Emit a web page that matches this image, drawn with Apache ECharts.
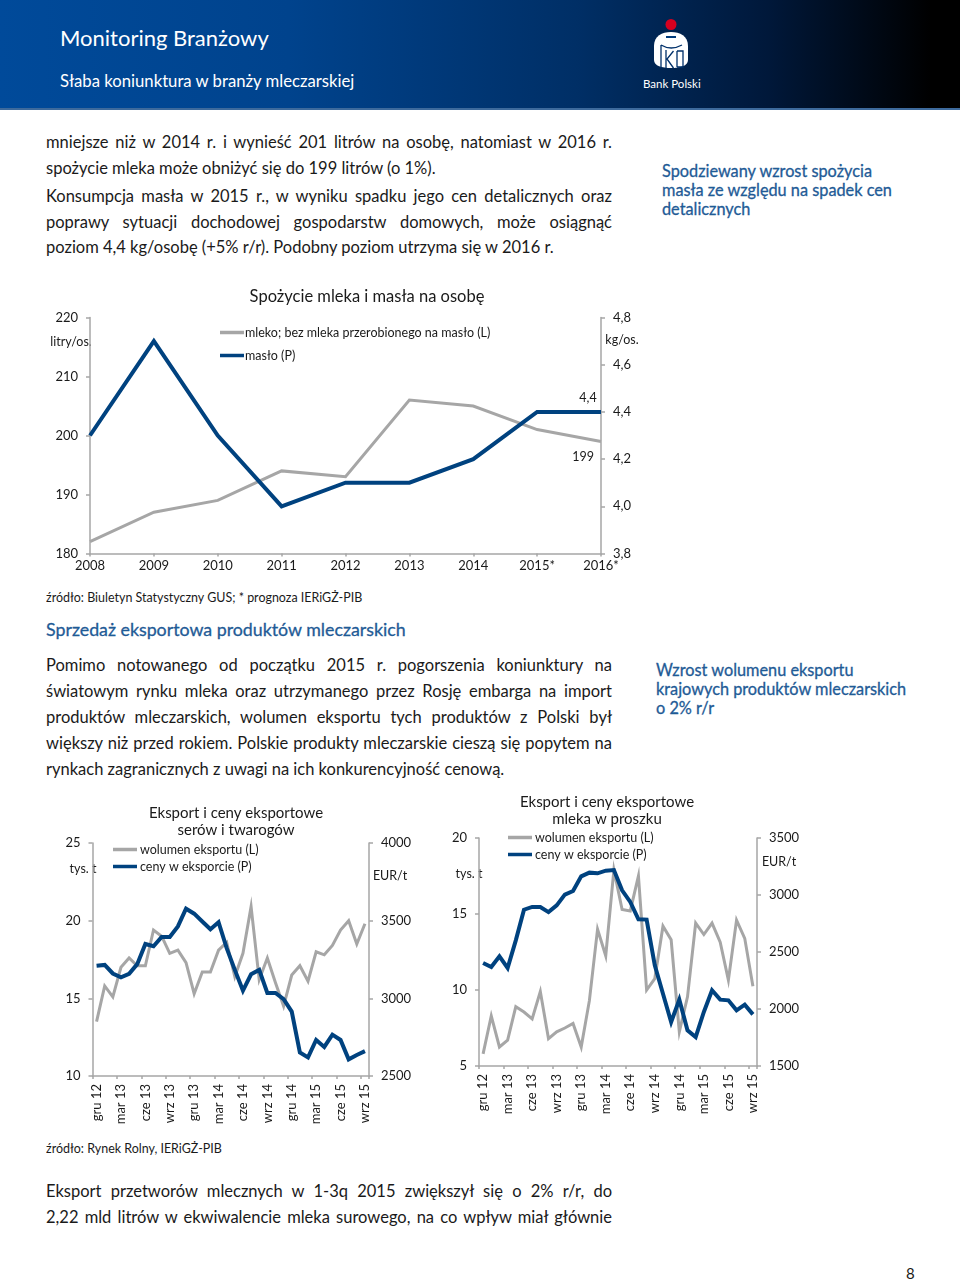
<!DOCTYPE html>
<html><head><meta charset="utf-8">
<script src="https://cdn.jsdelivr.net/npm/echarts@6/dist/echarts.min.js"></script>
<style>
html,body{margin:0;padding:0;background:#fff;}
body{width:960px;height:1279px;position:relative;overflow:hidden;font-family:Lato,"Noto Sans",sans-serif;color:#1a1a1a;}
#chart{position:absolute;left:0;top:0;width:960px;height:1279px;}
#hdr{position:absolute;left:0;top:0;width:960px;height:108px;background:linear-gradient(90deg,#004a9a 0%,#00438d 30%,#002f66 60%,#00183a 80%,#000 97%);border-bottom:2px solid #3d6a9c;}
.t{position:absolute;white-space:nowrap;}
.j{position:absolute;left:46px;width:566px;font-size:16.500px;line-height:24px;text-align:justify;text-align-last:justify;white-space:nowrap;}
.l{text-align-last:left;}
.b{color:#1f5b96;font-size:16.300px;-webkit-text-stroke:0.300px #1f5b96;}
.s{font-size:14px;transform:scaleX(.89);transform-origin:left center;}
</style></head><body>
<div id="hdr"></div>
<div class="t" style="left:60px;top:24px;font-size:22px;color:#fff">Monitoring Branżowy</div>
<div class="t" style="left:60px;top:71px;font-size:16.700px;color:#fff">Słaba koniunktura w branży mleczarskiej</div>
<svg style="position:absolute;left:650px;top:16px" width="44" height="56" viewBox="0 0 44 56">
<circle cx="21" cy="8.500" r="5.500" fill="#d5001f"/>
<path d="M4 30C4 20 12 16 21 16C30 16 38 20 38 30V44C38 50 30 52 21 52C12 52 4 50 4 44z" fill="#fff"/>
<rect x="16" y="20" width="10" height="2" fill="#003a7a"/>
<path d="M11 29V52M11 29Q21 35 32 29M16 34V52M23.500 35L17 43L23.500 52M27 35V51M27 35H33V51H27" fill="none" stroke="#00306a" stroke-width="1.300"/>
</svg>
<div class="t" style="left:643px;top:77px;font-size:11.500px;color:#fff">Bank Polski</div>

<div class="j" style="top:130px">mniejsze niż w 2014 r. i wynieść 201 litrów na osobę, natomiast w 2016 r.</div>
<div class="j l" style="top:156px">spożycie mleka może obniżyć się do 199 litrów (o 1%).</div>
<div class="j" style="top:184px">Konsumpcja masła w 2015 r., w wyniku spadku jego cen detalicznych oraz</div>
<div class="j" style="top:210px">poprawy sytuacji dochodowej gospodarstw domowych, może osiągnąć</div>
<div class="j l" style="top:235px">poziom 4,4 kg/osobę (+5% r/r). Podobny poziom utrzyma się w 2016 r.</div>
<div class="t b" style="left:662px;top:161px">Spodziewany wzrost spożycia</div>
<div class="t b" style="left:662px;top:180px">masła ze względu na spadek cen</div>
<div class="t b" style="left:662px;top:199px">detalicznych</div>
<div class="t s" style="left:46px;top:588px">źródło: Biuletyn Statystyczny GUS; * prognoza IERiGŻ-PIB</div>
<div class="t b" style="left:46px;top:618px;font-size:17.800px;">Sprzedaż eksportowa produktów mleczarskich</div>
<div class="j" style="top:653px">Pomimo notowanego od początku 2015 r. pogorszenia koniunktury na</div>
<div class="j" style="top:679px">światowym rynku mleka oraz utrzymanego przez Rosję embarga na import</div>
<div class="j" style="top:705px">produktów mleczarskich, wolumen eksportu tych produktów z Polski był</div>
<div class="j" style="top:731px">większy niż przed rokiem. Polskie produkty mleczarskie cieszą się popytem na</div>
<div class="j l" style="top:757px">rynkach zagranicznych z uwagi na ich konkurencyjność cenową.</div>
<div class="t b" style="left:656px;top:660px">Wzrost wolumenu eksportu</div>
<div class="t b" style="left:656px;top:679px">krajowych produktów mleczarskich</div>
<div class="t b" style="left:656px;top:698px">o 2% r/r</div>
<div class="t s" style="left:46px;top:1139px">źródło: Rynek Rolny, IERiGŻ-PIB</div>
<div class="j" style="top:1179px">Eksport przetworów mlecznych w 1-3q 2015 zwiększył się o 2% r/r, do</div>
<div class="j" style="top:1205px">2,22 mld litrów w ekwiwalencie mleka surowego, na co wpływ miał głównie</div>
<div class="t" style="left:906px;top:1264px;font-size:15px">8</div>
<div id="chart"></div>
<script>
var years=['2008','2009','2010','2011','2012','2013','2014','2015*','2016*'];
var milk=[182,187,189,194,193,206,205,201,199];
var butter=[4.3,4.7,4.3,4.0,4.1,4.1,4.2,4.4,4.4];
var months=['gru 12','sty 13','lut 13','mar 13','kwi 13','maj 13','cze 13','lip 13','sie 13','wrz 13','paź 13','lis 13','gru 13','sty 14','lut 14','mar 14','kwi 14','maj 14','cze 14','lip 14','sie 14','wrz 14','paź 14','lis 14','gru 14','sty 15','lut 15','mar 15','kwi 15','maj 15','cze 15','lip 15','sie 15','wrz 15'];
var cheeseVol=[13.5,15.8,15.1,17.0,17.6,17.1,17.1,19.4,19.0,17.9,18.1,17.3,15.3,16.7,16.7,18.1,18.6,16.4,17.9,20.9,16.2,17.6,16.0,14.5,16.5,17.1,16.1,18.0,17.8,18.4,19.4,20.0,18.5,19.8];
var cheesePrice=[3210,3215,3160,3135,3158,3220,3350,3335,3395,3395,3463,3577,3545,3495,3445,3490,3323,3183,3050,3155,3183,3035,3035,2995,2915,2652,2620,2732,2687,2766,2732,2607,2635,2660];
var powderVol=[5.8,8.3,6.25,6.7,8.9,8.55,8.1,9.9,6.8,7.25,7.5,7.8,6.25,9.3,14.0,12.25,17.9,15.3,15.2,17.5,10.0,10.75,14.2,13.3,7.25,9.55,14.4,13.65,14.4,13.15,10.65,14.6,13.4,10.25];
var powderPrice=[2403,2368,2462,2360,2602,2871,2895,2895,2850,2909,3003,3035,3164,3196,3190,3213,3219,3041,2939,2787,2784,2383,2134,1886,2082,1813,1754,1974,2164,2082,2076,1988,2038,1953];

var FONT='Lato,"Noto Sans",sans-serif', GREY='#a6a6a6', BLUE='#00427f', TXT='#1a1a1a';
var chart=echarts.init(document.getElementById('chart'),null,{renderer:'canvas'});
var comma=function(v){return v.toFixed(1).replace('.',',');};
var plain=function(v){return String(v);};
function yAx(idx,min,max,intv,right,fmt){
  return {type:'value',gridIndex:idx,min:min,max:max,interval:intv,position:right?'right':'left',
    splitLine:{show:false},axisLine:{show:true,lineStyle:{color:GREY,width:1.500}},
    axisTick:{show:true,length:4,lineStyle:{color:GREY,width:1.500}},
    axisLabel:{color:TXT,fontFamily:FONT,fontSize:13,margin:12,formatter:fmt||plain}};
}
function xAx(idx,data,gap,rot){
  return {type:'category',gridIndex:idx,data:data,boundaryGap:gap,
    axisLine:{show:true,lineStyle:{color:GREY,width:1.500}},
    axisTick:{show:true,length:3,interval:rot?2:0,alignWithLabel:!gap,lineStyle:{color:GREY,width:1.500}},
    axisLabel:{color:TXT,fontFamily:FONT,fontSize:13,interval:rot?2:0,rotate:rot?90:0,margin:rot?8:6,showMinLabel:true,showMaxLabel:true,hideOverlap:false}};
}
function line(name,x,y,data,color,w,labelled){
  return {type:'line',name:name,xAxisIndex:x,yAxisIndex:y,data:data,showSymbol:!!labelled,showAllSymbol:!!labelled,symbol:labelled?'circle':'none',symbolSize:labelled?0.1:0,smooth:false,
    lineStyle:{color:color,width:w,join:'miter'},itemStyle:{color:color},animation:false};
}
function lastLabel(arr,fmt,pos,off){
  return arr.map(function(v,i){
    return i===arr.length-1?{value:v,label:{show:true,position:pos,offset:off,formatter:fmt,color:TXT,fontFamily:FONT,fontSize:12.500}}:v;
  });
}
function leg(names,left,top,gap,pad){
  return {orient:'vertical',left:left,top:top,data:names,itemWidth:24,itemHeight:3.500,itemGap:gap,selectedMode:false,padding:0,
    icon:'rect',textStyle:{color:TXT,fontFamily:FONT,fontSize:12.500,padding:[0,0,0,pad]}};
}
function ttl(text,cx,top,size){
  return {text:text,left:cx,top:top,textAlign:'center',padding:0,
    textStyle:{color:TXT,fontFamily:FONT,fontSize:size,fontWeight:'normal',lineHeight:17}};
}
function note(text,x,y){
  return {type:'text',x:x,y:y,style:{text:text,fill:TXT,font:'12.500px '+FONT,textAlign:'center',textVerticalAlign:'middle'}};
}
var N1=['mleko; bez mleka przerobionego na masło (L)','masło (P)'],N2=['wolumen eksportu (L)','ceny w eksporcie (P)'];
chart.setOption({
  animation:false,
  title:[ttl('Spożycie mleka i masła na osobę',367,288,16.500),ttl('Eksport i ceny eksportowe\nserów i twarogów',236,805,15),ttl('Eksport i ceny eksportowe\nmleka w proszku',607,794,15)],
  legend:[leg(N1,220,326,10,-4),leg(N2,113,843,4,-2),leg(N2,508,831,4,-2)],
  grid:[{left:90,right:359,top:317.500,height:236},{left:92.500,right:591,top:843,height:233},{left:479,right:203,top:838,height:228}],
  xAxis:[xAx(0,years,false,false),xAx(1,months,true,true),xAx(2,months,true,true)],
  yAxis:[yAx(0,180,220,10,false),yAx(0,3.8,4.8,0.2,true,comma),
         yAx(1,10,25,5,false),yAx(1,2500,4000,500,true),
         yAx(2,5,20,5,false),yAx(2,1500,3500,500,true)],
  series:[
    line(N1[0],0,0,lastLabel(milk,function(p){return String(p.value);},'bottom',[-18,4]),GREY,3,true),
    line(N1[1],0,1,lastLabel(butter,function(p){return comma(p.value);},'top',[-13,-2]),BLUE,4,true),
    line(N2[0],1,2,cheeseVol,GREY,3),line(N2[1],1,3,cheesePrice,BLUE,4),
    line(N2[0],2,4,powderVol,GREY,3),line(N2[1],2,5,powderPrice,BLUE,4)
  ],
  graphic:[note('litry/os.',71,342),note('kg/os.',622,340),note('tys. t',83,869),note('EUR/t',390,876),note('tys. t',469,874),note('EUR/t',779,862)]
});
</script></body></html>
